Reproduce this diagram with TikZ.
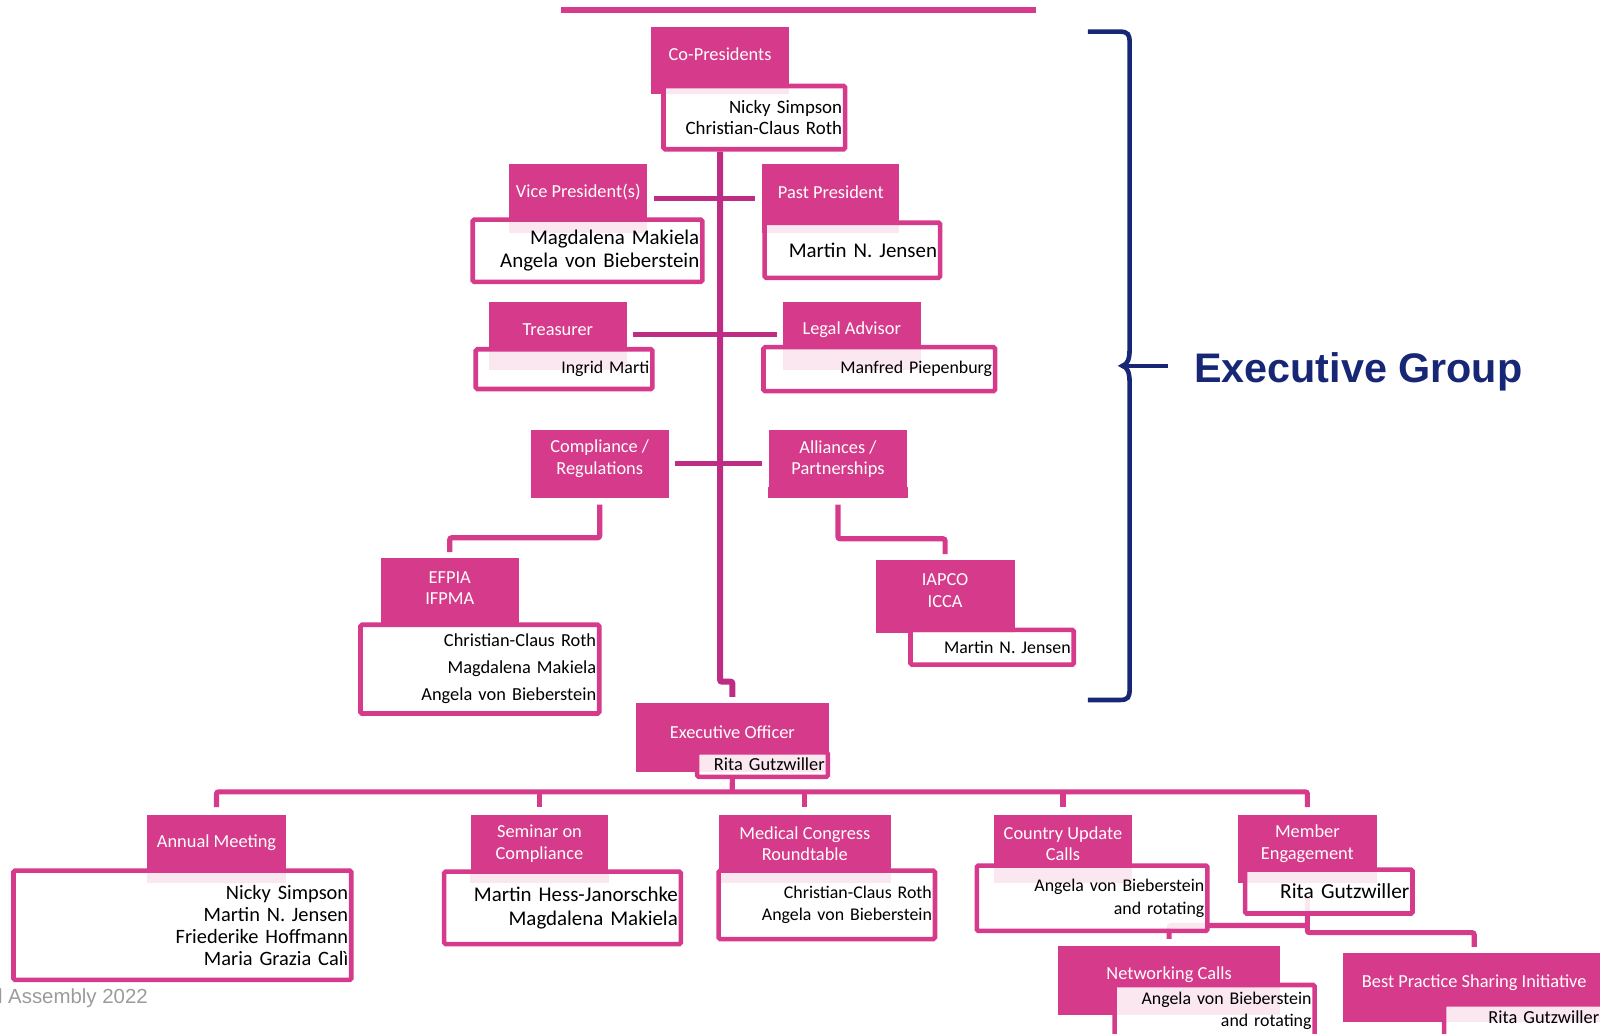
\documentclass[tikz,border=0pt]{standalone}
\usepackage{fontspec}
\setmainfont{Carlito}
\newfontfamily\helv{Liberation Sans}
\definecolor{hd}{RGB}{214,58,138}
\definecolor{trk}{RGB}{190,45,132}
\definecolor{navy}{RGB}{24,39,117}
\definecolor{footgray}{RGB}{155,155,155}
\pgfdeclarelayer{bg}
\pgfsetlayers{bg,main}
\tikzset{
  head/.style={fill=hd, text=white, font=\fontsize{18}{21}\selectfont, align=center, inner sep=0pt, anchor=north west},
  namebox/.style={draw=hd, line width=4.5pt, fill=white, fill opacity=0.88, text opacity=1, rounded corners=1.5pt, align=right, anchor=north west, inner xsep=3pt, inner ysep=0pt, text width=#1},
  trunk/.style={draw=trk, line width=6pt, rounded corners=2pt},
  cross/.style={draw=trk, line width=5pt},
  conn/.style={draw=hd, line width=5pt, rounded corners=2pt},
}
\begin{document}
\begin{tikzpicture}[x=1pt,y=-1pt]
\useasboundingbox (0,0) rectangle (1568,1013);
\clip (0,0) rectangle (1568,1013);
% top rule
\draw[hd, line width=6pt] (550,10) -- (1015,10);

% headers
\node[head, minimum width=135pt, minimum height=54pt] (cop) at (638,26) {Co-Presidents};
\node[head, minimum width=135pt, minimum height=54pt] (vp) at (499,161) {Vice President(s)};
\node[head, minimum width=134pt, minimum height=54pt] (pp) at (747,161) {Past President};
\node[head, minimum width=135pt, minimum height=54pt] (tr) at (479,296) {Treasurer};
\node[head, minimum width=135pt, minimum height=54pt] (la) at (767,296) {Legal Advisor};
\node[head, minimum width=135pt, minimum height=57pt] (co) at (520,421) {Compliance /\\Regulations};
\node[head, minimum width=136pt, minimum height=57pt] (al) at (753,421) {Alliances /\\Partnerships};
\node[head, minimum width=135pt, minimum height=58pt] (ef) at (373,547) {EFPIA\\IFPMA};
\node[head, minimum width=136pt, minimum height=59pt] (ia) at (858,549) {IAPCO\\ICCA};
\node[head, minimum width=189pt, minimum height=56pt] (ex) at (623,689) {Executive Officer};
\node[head, minimum width=136pt, minimum height=56pt] (am) at (144,798) {Annual Meeting};
\node[head, minimum width=135pt, minimum height=57pt] (se) at (461,798) {Seminar on\\Compliance};
\node[head, minimum width=169pt, minimum height=57pt] (mc) at (704,798) {Medical Congress\\Roundtable};
\node[head, minimum width=135pt, minimum height=57pt] (cu) at (974,798) {Country Update\\Calls};
\node[head, minimum width=136pt, minimum height=57pt] (me) at (1213,798) {Member\\Engagement};
\node[head, minimum width=217pt, minimum height=56pt] (ne) at (1037,927) {Networking Calls};
\node[head, minimum width=257pt, minimum height=58pt] (bp) at (1316,934) {Best Practice Sharing Initiative};

% header parts under the name boxes
\fill[hd] ([yshift=1pt]cop.south west) rectangle ([yshift=-12pt]cop.south east);
\fill[hd] ([yshift=1pt]vp.south west) rectangle ([yshift=-13pt]vp.south east);
\fill[hd] ([yshift=1pt]pp.south west) rectangle ([yshift=-13pt]pp.south east);
\fill[hd] ([yshift=1pt]tr.south west) rectangle ([yshift=-12pt]tr.south east);
\fill[hd] ([yshift=1pt]la.south west) rectangle ([yshift=-12pt]la.south east);
\fill[hd] ([yshift=1pt]co.south west) rectangle ([yshift=-10pt]co.south east);
\fill[hd] ([yshift=1pt]al.south west) rectangle ([yshift=-10pt]al.south east);
\fill[hd] ([yshift=1pt]ef.south west) rectangle ([yshift=-5pt]ef.south east);
\fill[hd] ([yshift=1pt]ia.south west) rectangle ([yshift=-12pt]ia.south east);
\fill[hd] ([yshift=1pt]ex.south west) rectangle ([yshift=-11pt]ex.south east);
\fill[hd] ([yshift=1pt]am.south west) rectangle ([yshift=-11pt]am.south east);
\fill[hd] ([yshift=1pt]se.south west) rectangle ([yshift=-10pt]se.south east);
\fill[hd] ([yshift=1pt]mc.south west) rectangle ([yshift=-10pt]mc.south east);
\fill[hd] ([yshift=1pt]cu.south west) rectangle ([yshift=-10pt]cu.south east);
\fill[hd] ([yshift=1pt]me.south west) rectangle ([yshift=-10pt]me.south east);
\fill[hd] ([yshift=1pt]ne.south west) rectangle ([yshift=-11pt]ne.south east);
\fill[hd] ([yshift=1pt]bp.south west) rectangle ([yshift=-9pt]bp.south east);

% name boxes
\node[namebox=172pt, minimum height=62pt, font=\fontsize{18.5}{20}\selectfont] (copn) at (648,82) {Nicky Simpson\\Christian-Claus Roth};
\node[namebox=219pt, minimum height=61pt, font=\fontsize{20.5}{23}\selectfont] (vpn) at (461,213) {Magdalena Makiela\\Angela von Bieberstein};
\node[namebox=166pt, minimum height=54pt, font=\fontsize{20.5}{23}\selectfont] (ppn) at (747,216) {Martin N. Jensen};
\node[namebox=167pt, minimum height=39pt, font=\fontsize{17.5}{21}\selectfont] (trn) at (464,340) {Ingrid Marti};
\node[namebox=221pt, minimum height=43pt, font=\fontsize{17.5}{21}\selectfont] (lan) at (746,338) {Manfred Piepenburg};
\node[namebox=228pt, minimum height=87pt, font=\fontsize{18}{26.5}\selectfont] (efn) at (351,610) {Christian-Claus Roth\\Magdalena Makiela\\Angela von Bieberstein};
\node[namebox=154pt, minimum height=34pt, font=\fontsize{17.5}{21}\selectfont] (ian) at (890,615) {Martin N. Jensen};
\node[namebox=122pt, minimum height=24pt, font=\fontsize{18}{21}\selectfont] (rgn) at (681,735) {Rita Gutzwiller};
\node[namebox=325pt, minimum height=107pt, font=\fontsize{20}{21.7}\selectfont] (amn) at (11,851) {Nicky Simpson\\Martin N. Jensen\\Friederike Hoffmann\\Maria Grazia Calì};
\node[namebox=226pt, minimum height=71pt, font=\fontsize{20.5}{24}\selectfont] (sen) at (433,852) {Martin Hess-Janorschke\\Magdalena Makiela};
\node[namebox=206pt, minimum height=67pt, font=\fontsize{17.5}{21}\selectfont] (mcn) at (702,851) {Christian-Claus Roth\\Angela von Bieberstein};
\node[namebox=220pt, minimum height=64pt, font=\fontsize{17.5}{22}\selectfont] (cun) at (955,846) {Angela von Bieberstein\\and rotating};
\node[namebox=158pt, minimum height=43pt, font=\fontsize{21}{24}\selectfont] (men) at (1218,850) {Rita Gutzwiller};
\node[namebox=190pt, minimum height=51pt, font=\fontsize{17.5}{21}\selectfont] (nen) at (1090,963) {Angela von Bieberstein\\and rotating};
\node[namebox=149pt, minimum height=44pt, text depth=18pt, font=\fontsize{18}{21}\selectfont] (bpn) at (1413,982) {Rita Gutzwiller};

% brace and group title
\draw[navy, line width=4.5pt] (1066,31) -- (1097,31) .. controls (1106,31) and (1107,34) .. (1107,42) -- (1107,342)
  .. controls (1107,352) and (1105,357) .. (1100,358.5) .. controls (1105,360) and (1107,365) .. (1107,375)
  -- (1107,675) .. controls (1107,683) and (1106,686) .. (1097,686) -- (1066,686);
\draw[navy, line width=4.5pt] (1102,358.5) -- (1145,358.5);
\node[font=\helv\bfseries\fontsize{40.5}{44}\selectfont, text=navy, anchor=base west, inner sep=0pt] (eg) at (1170,375) {Executive Group};
\node[font=\helv\fontsize{20}{24}\selectfont, text=footgray, anchor=base east, inner sep=0pt] (foot) at (145,983) {General Assembly 2022};

% connectors
\coordinate (bus) at (717.5,776);
\begin{pgfonlayer}{bg}
\draw[trunk] (cop |- copn.south) -- (cop |- 0,668) -| ([yshift=6pt]ex.north);
\draw[cross] ([shift={(7,6)}]vp.east) -- ([shift={(-7,6)}]pp.west);
\draw[cross] ([shift={(6,5)}]tr.east) -- ([shift={(-6,5)}]la.west);
\draw[cross] ([shift={(6,4.5)}]co.east) -- ([shift={(-6,4.5)}]al.west);
\draw[conn] ([yshift=-16pt]co.south) -- (co.south |- 0,527) -| ([yshift=6pt]ef.north);
\draw[conn] ([yshift=-16pt]al.south) -- (al.south |- 0,528) -| ([yshift=6pt]ia.north);
\draw[conn] (ex |- rgn.south) -- (bus);
\draw[conn] ([yshift=7pt]am.north) -- (am |- bus) -- (me |- bus) -- ([yshift=7pt]me.north);
\draw[conn] (se |- bus) -- ([yshift=7pt]se.north);
\draw[conn] (mc |- bus) -- ([yshift=7pt]mc.north);
\draw[conn] (cu |- bus) -- ([yshift=7pt]cu.north);
\draw[conn] (me |- 0,880) -- (me |- 0,914) -| ([yshift=6pt]bp.north);
\draw[conn] (me |- 0,907) -| ([yshift=7pt]ne.north);
\end{pgfonlayer}
\end{tikzpicture}
\end{document}
